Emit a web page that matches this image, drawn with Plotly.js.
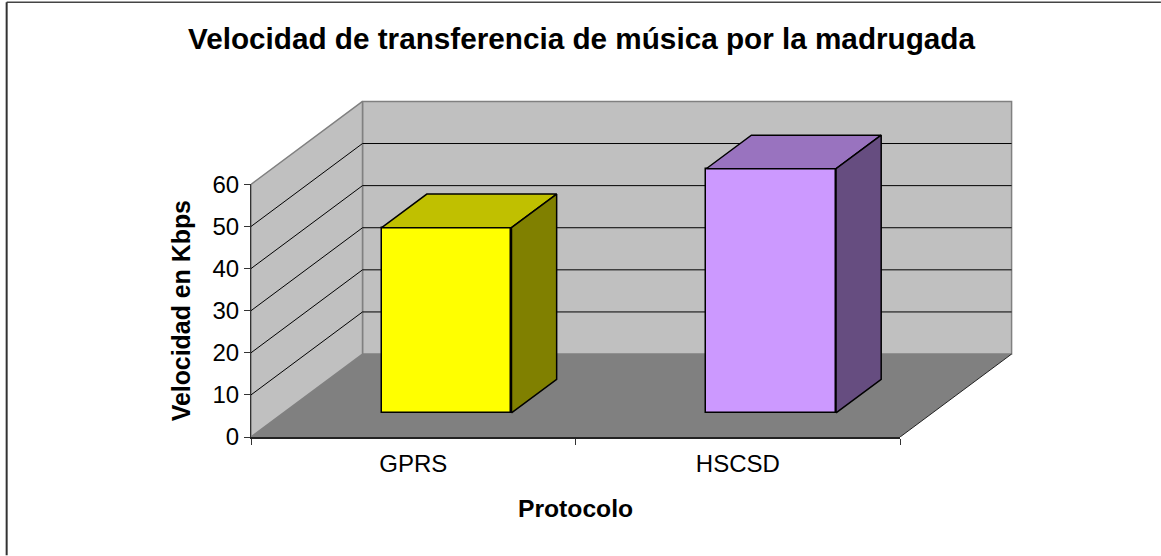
<!DOCTYPE html>
<html>
<head>
<meta charset="utf-8">
<script src="https://cdn.plot.ly/plotly-3.0.1.min.js"></script>
<style>html,body{margin:0;padding:0;background:#fff;overflow:hidden}</style>
</head>
<body>
<div id="chart" style="width:1161px;height:556px"></div>
<script>
const categories = ["GPRS", "HSCSD"];
const speeds = [44, 58];
const yTicks = [0, 10, 20, 30, 40, 50, 60];
const frontColors = ["#FFFF00", "#CC99FF"];
const topColors = ["#C0C000", "#9973BF"];
const sideColors = ["#808000", "#664D80"];

const titleText = "Velocidad de transferencia de música por la madrugada";
const xTitleText = "Protocolo";
const yTitleText = "Velocidad en Kbps";

// Oblique projection of the depth axis, in axis units (depth 0 = front, 1 = back wall)
const depthX = 0.3436, depthY = 19.7;
const barFront = 0.29, barBack = 0.695, barWidth = 0.40;
const barNudgeX = 0.003;
const xMax = categories.length, yMax = 60;
const centres = categories.map((c, i) => i + 0.5 + barNudgeX);
const P = (x, y, d) => [x + d * depthX, y + d * depthY];

// Pixel frame: the labelled axes cover the front plane, the scene axes also hold the depth
const fullLeft = 250.5, fullRight = 1014, fullTop = 98, fullBottom = 437.5;
const frontRight = 900, frontTop = 184.5;
const fullW = fullRight - fullLeft, fullH = fullBottom - fullTop;
const frontW = frontRight - fullLeft, frontH = fullBottom - frontTop;
const sceneX = [0, xMax * fullW / frontW], sceneY = [0, yMax * fullH / frontH];

function poly(points, fill, line, axes) {
  const pts = points.concat([points[0]]);
  return Object.assign({
    type: "scatter", mode: "lines",
    x: pts.map(p => p[0]), y: pts.map(p => p[1]),
    fill: "toself", fillcolor: fill,
    line: line, hoverinfo: "skip", showlegend: false
  }, axes);
}

const wallLine = { color: "#808080", width: 1.5 };
const noLine = { color: "rgba(0,0,0,0)", width: 0 };
const back = { xaxis: "x", yaxis: "y" };
const fore = { xaxis: "x2", yaxis: "y2" };

const traces = [
  poly([P(0, 0, 0), P(xMax, 0, 0), P(xMax, 0, 1), P(0, 0, 1)], "#808080", noLine, back),
  poly([P(0, 0, 1), P(xMax, 0, 1), P(xMax, yMax, 1), P(0, yMax, 1)], "#C0C0C0", wallLine, back),
  poly([P(0, 0, 0), P(0, 0, 1), P(0, yMax, 1), P(0, yMax, 0)], "#C0C0C0", wallLine, back)
];

const gx = [], gy = [];
yTicks.filter(v => v > 0 && v < yMax).forEach(v => {
  [P(0, v, 0), P(0, v, 1), P(xMax, v, 1)].forEach(p => { gx.push(p[0]); gy.push(p[1]); });
  gx.push(null); gy.push(null);
});
traces.push({ type: "scatter", mode: "lines", x: gx, y: gy, xaxis: "x", yaxis: "y",
  line: { color: "#000000", width: 1 }, hoverinfo: "skip", showlegend: false });

// Floor's far right edge
const edgeA = P(xMax, 0, 0), edgeB = P(xMax, 0, 1);
traces.push({ type: "scatter", mode: "lines", x: [edgeA[0], edgeB[0]], y: [edgeA[1], edgeB[1]],
  xaxis: "x", yaxis: "y", line: { color: "#222222", width: 1 },
  hoverinfo: "skip", showlegend: false });

// Front faces: a real bar trace, seated on the floor at the bar's front depth
traces.push({
  type: "bar", xaxis: "x2", yaxis: "y2",
  x: centres.map(c => c + barFront * depthX),
  y: speeds,
  base: speeds.map(() => barFront * depthY),
  width: barWidth,
  marker: { color: frontColors, line: { color: "#000000", width: 1.5 } },
  showlegend: false,
  customdata: categories, hovertemplate: "%{customdata}: %{y} Kbps<extra></extra>"
});

const barLine = { color: "#000000", width: 1.5 };
speeds.forEach((v, i) => {
  const L = centres[i] - barWidth / 2, R = centres[i] + barWidth / 2;
  traces.push(poly([P(L, v, barFront), P(R, v, barFront), P(R, v, barBack), P(L, v, barBack)],
    topColors[i], barLine, fore));
  traces.push(poly([P(R, 0, barFront), P(R, 0, barBack), P(R, v, barBack), P(R, v, barFront)],
    sideColors[i], barLine, fore));
});

// Invisible carrier for the labelled category / value axes
traces.push({ type: "scatter", mode: "markers", x: categories, y: speeds, xaxis: "x3", yaxis: "y3",
  marker: { opacity: 0, size: 1 }, hoverinfo: "skip", showlegend: false });

const fontFamily = '"Liberation Sans", Arial, sans-serif';

const hidden = (range, extra) => Object.assign({ range: range, visible: false, fixedrange: true }, extra);

const layout = {
  width: 1161, height: 556, autosize: false,
  margin: { l: fullLeft, r: 1161 - fullRight, t: fullTop, b: 556 - fullBottom, pad: 0 },
  paper_bgcolor: "#FFFFFF", plot_bgcolor: "rgba(0,0,0,0)",
  font: { family: fontFamily, color: "#000000", size: 18 },
  showlegend: false, bargap: 0, barmode: "overlay",
  title: { text: "<b>" + titleText + "</b>", x: 581.5 / 1161, xanchor: "center",
           y: 1 - 39 / 556, yanchor: "middle", font: { family: fontFamily, size: 29.7, color: "#000000" } },
  xaxis: hidden(sceneX, { anchor: "y" }),
  yaxis: hidden(sceneY, { anchor: "x" }),
  xaxis2: hidden(sceneX, { overlaying: "x", anchor: "y2" }),
  yaxis2: hidden(sceneY, { overlaying: "y", anchor: "x2" }),
  xaxis3: {
    type: "category", categoryorder: "array", categoryarray: categories,
    domain: [0, frontW / fullW], anchor: "y3", range: [-0.5, categories.length - 0.5],
    tickson: "boundaries", ticks: "outside", ticklen: 6, tickcolor: "#333333", tickwidth: 1,
    showline: true, linecolor: "#222222", linewidth: 2, showgrid: false, zeroline: false,
    tickfont: { size: 24 }, ticklabelstandoff: 4, fixedrange: true,
    title: { text: "<b>" + xTitleText + "</b>", standoff: 24, font: { size: 24.7 } }
  },
  yaxis3: {
    domain: [0, frontH / fullH], anchor: "x3", range: [0, yMax],
    tickmode: "array", tickvals: yTicks,
    ticks: "outside", ticklen: 6, tickcolor: "#333333", tickwidth: 1,
    showline: true, linecolor: "#333333", linewidth: 1, showgrid: false, zeroline: false,
    tickfont: { size: 24 }, fixedrange: true,
    title: { text: "<b>" + yTitleText + "</b>", standoff: 14, font: { size: 24.9 } }
  },
  shapes: [
    { type: "line", xref: "paper", yref: "paper", layer: "above",
      x0: (6 - fullLeft) / fullW, x1: (1161 - fullLeft) / fullW,
      y0: (fullBottom - 2) / fullH, y1: (fullBottom - 2) / fullH,
      line: { color: "#444444", width: 1.5 } },
    { type: "line", xref: "paper", yref: "paper", layer: "above",
      x0: (6 - fullLeft) / fullW, x1: (6 - fullLeft) / fullW,
      y0: (fullBottom - 2) / fullH, y1: (fullBottom - 556) / fullH,
      line: { color: "#333333", width: 2 } }
  ]
};

Plotly.newPlot("chart", traces, layout, { displayModeBar: false, responsive: false });
</script>
</body>
</html>
